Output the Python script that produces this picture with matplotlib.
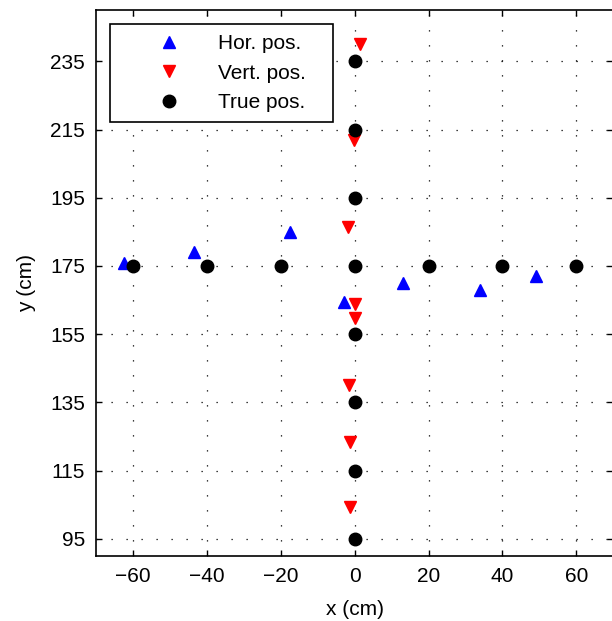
import matplotlib
matplotlib.use("Agg")
import matplotlib.pyplot as plt

plt.rcParams['font.family'] = ['Liberation Sans', 'DejaVu Sans']

# horizontal estimates
hor_x = [-62.5, -43.5, -17.5, -3, 13, 34, 49]
hor_y = [176, 179, 185, 164.5, 170, 168, 172]

# vertical estimates
vert_x = [1.5, -0.3, -1.7, 0.2, 0.2, -1.4, -1.2, -1.2]
vert_y = [240, 212, 186.5, 164, 159.7, 140, 123.5, 104.5]

# true positions
true_x = [-60, -40, -20, 0, 20, 40, 60, 0, 0, 0, 0, 0, 0, 0]
true_y = [175, 175, 175, 175, 175, 175, 175, 95, 115, 135, 155, 195, 215, 235]

xticks = [-60, -40, -20, 0, 20, 40, 60]
yticks = [95, 115, 135, 155, 175, 195, 215, 235]

fig = plt.figure(figsize=(6.12, 6.21), dpi=100)
ax = fig.add_axes([0.157, 0.1047, 0.845, 0.879])

ax.plot(hor_x, hor_y, '^', color='blue', markersize=8, linestyle='none', label='Hor. pos.   ')
ax.plot(vert_x, vert_y, 'v', color='red', markersize=8, linestyle='none', label='Vert. pos.   ')
ax.plot(true_x, true_y, 'o', color='black', markersize=9, linestyle='none', label='True pos.   ')

ax.set_xlim(-70, 70)
ax.set_ylim(90, 250)
ax.set_xticks(xticks)
ax.set_yticks(yticks)
ax.set_xticklabels(['\u2212' + str(abs(v)) if v < 0 else str(v) for v in xticks])
ax.grid(True, color='black', linestyle=(0, (1, 11)), linewidth=0.9)
ax.tick_params(direction='in', top=True, right=True, labelsize=15, length=4, width=1, pad=8)
for s in ax.spines.values():
    s.set_linewidth(1.2)

ax.set_xlabel('x (cm)', fontsize=15, labelpad=10)
ax.set_ylabel('y (cm)', fontsize=15, labelpad=10)

leg = ax.legend(loc='upper left', fontsize=15, fancybox=False, framealpha=1,
                edgecolor='black', borderpad=0.48, handlelength=4.7, handletextpad=0.0,
                borderaxespad=0.68, labelspacing=0.5)
leg.get_frame().set_linewidth(1.2)

plt.savefig('out.png', dpi=100)
